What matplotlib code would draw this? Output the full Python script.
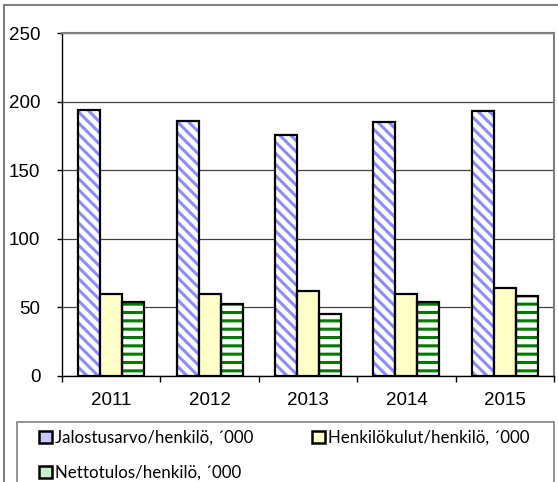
import matplotlib
matplotlib.use("Agg")
import matplotlib.pyplot as plt
import numpy as np
from matplotlib.patches import Patch, Rectangle

# ---- data ----
years = ['2011', '2012', '2013', '2014', '2015']
jalostusarvo = [194, 186, 176, 185, 193]
henkilokulut = [59.5, 60, 62, 60, 64]
nettotulos = [54, 52.5, 45.5, 54, 58.5]
series_names = ['Jalostusarvo/henkilö, ´000',
                'Henkilökulut/henkilö, ´000',
                'Nettotulos/henkilö, ´000']
y_ticks = [0, 50, 100, 150, 200, 250]

plt.rcParams['font.family'] = ['Liberation Sans', 'DejaVu Sans']
plt.rcParams['hatch.linewidth'] = 2.2

fig = plt.figure(figsize=(5.58, 4.82), dpi=100)
ax = fig.add_axes([62 / 558, 106 / 482, 492 / 558, 343 / 482])

x = np.arange(len(years))
w = 0.224

# blue diagonal stripes
ax.bar(x - w, jalostusarvo, w, facecolor='white', edgecolor='#8c8cff',
       hatch='\\\\\\', linewidth=0, zorder=3)
ax.bar(x - w, jalostusarvo, w, fill=False, edgecolor='black', linewidth=1.6, zorder=4)
# light yellow
ax.bar(x, henkilokulut, w, facecolor='#ffffc8', edgecolor='black', linewidth=1.6, zorder=4)
# green horizontal stripes
ax.bar(x + w, nettotulos, w, facecolor='white', edgecolor='#007a00',
       hatch='--', linewidth=0, zorder=3)
ax.bar(x + w, nettotulos, w, fill=False, edgecolor='black', linewidth=1.6, zorder=4)

ax.set_xlim(-0.5, len(years) - 0.5)
ax.set_ylim(0, 250)
ax.set_yticks(y_ticks)
ax.set_yticklabels([str(t) for t in y_ticks])
ax.set_xticks(x)
ax.set_xticklabels(years)
ax.set_xticks(np.arange(len(years) + 1) - 0.5, minor=True)
ax.tick_params(axis='x', which='major', length=0, pad=11.5, labelsize=13.5)
ax.tick_params(axis='x', which='minor', length=4.3, width=1, direction='out')
ax.tick_params(axis='y', length=3.6, width=1, pad=12, labelsize=13.5)

ax.grid(axis='y', color='#404040', linewidth=0.9, zorder=0)
ax.set_axisbelow(True)
for s in ['top', 'right']:
    ax.spines[s].set_color('#808080')
    ax.spines[s].set_linewidth(1.5)
for s in ['left', 'bottom']:
    ax.spines[s].set_color('black')
    ax.spines[s].set_linewidth(1)

# outer chart border (cut by the image edges)
fig.patches.append(Rectangle((4 / 558, -0.2), 1.2, 1.2 - 5 / 482,
                             transform=fig.transFigure, fill=False,
                             edgecolor='#808080', linewidth=1.5))
# legend frame (runs past the bottom edge)
fig.patches.append(Rectangle((17 / 558, -0.1), 537 / 558, 0.1 + 60 / 482,
                             transform=fig.transFigure, fill=False,
                             edgecolor='#808080', linewidth=1.2))

handles = [Patch(facecolor='#c8c8ff', edgecolor='black', linewidth=1.8),
           Patch(facecolor='#ffffc8', edgecolor='black', linewidth=1.8),
           Patch(facecolor='#c8f0c8', edgecolor='black', linewidth=1.8)]
# matplotlib fills columns first, so reorder to get row-wise order
order = [0, 2, 1]
leg = fig.legend([handles[i] for i in order], [series_names[i] for i in order],
                 ncol=2, mode='expand', loc='upper left',
                 bbox_to_anchor=(39 / 558, -0.1, 491 / 558, 0.1 + 52 / 482),
                 frameon=False, borderaxespad=0, borderpad=0,
                 prop={'family': 'Lato', 'size': 12.2},
                 handlelength=0.75, handleheight=0.75, handletextpad=0.2,
                 labelspacing=1.1)

fig.savefig('out.png', dpi=100)
